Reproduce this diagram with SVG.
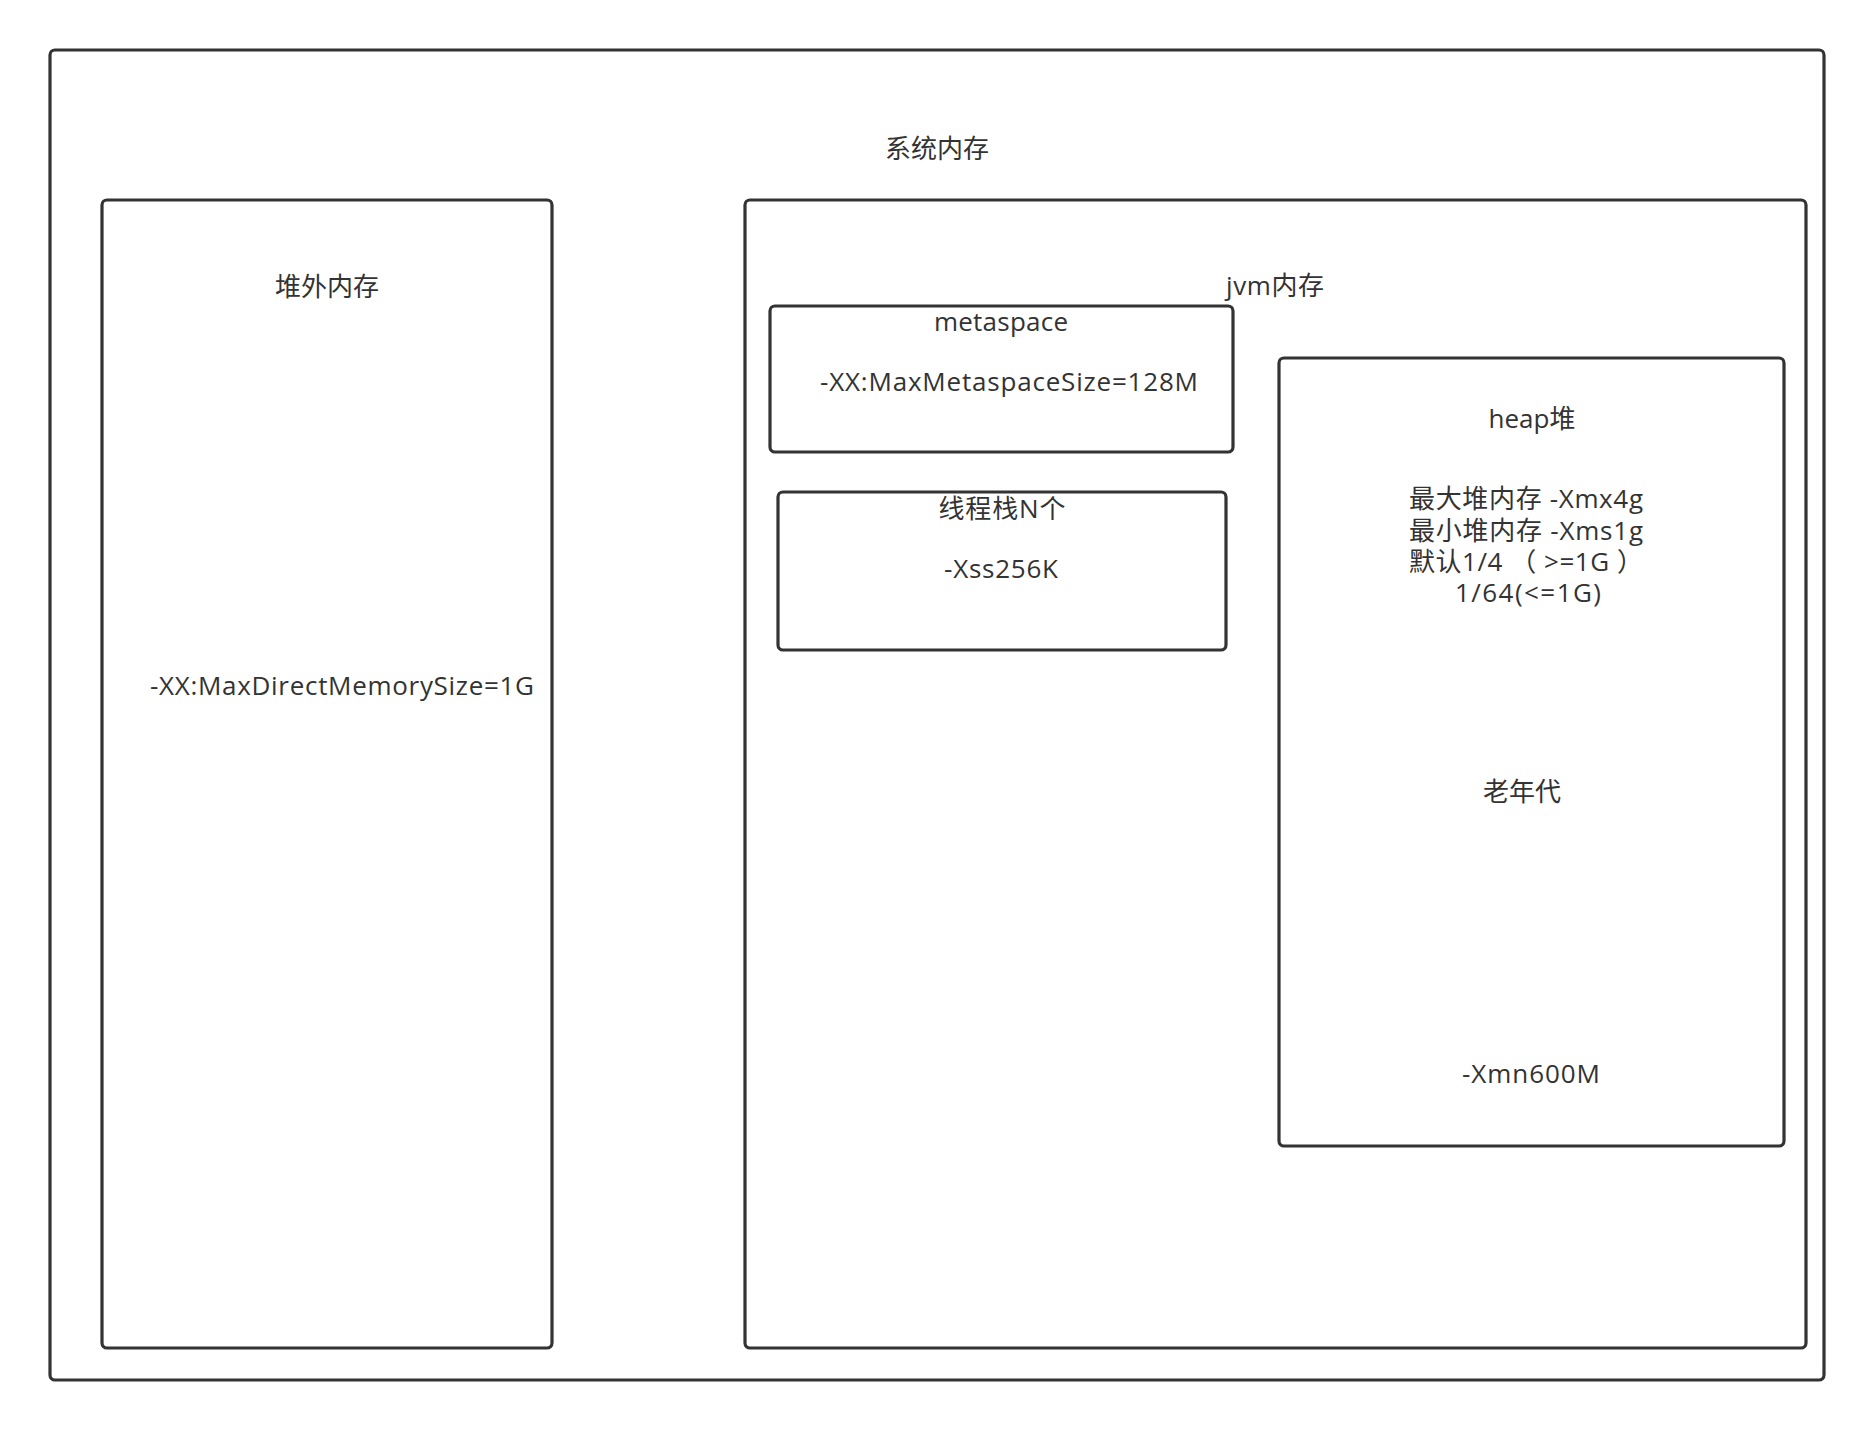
<svg xmlns="http://www.w3.org/2000/svg" width="1872" height="1430" viewBox="0 0 1872 1430">
<style>
.box{fill:#ffffff;stroke:#333333;stroke-width:3.2;}
.t{font-family:'Open Sans','Noto Sans CJK SC',sans-serif;font-size:26px;fill:#333333;}
.c{text-anchor:middle;}
</style>
<rect width="1872" height="1430" fill="#ffffff"/>
<g id="system">
<rect class="box" x="50" y="50" width="1774" height="1330" rx="5"/>
<text class="t c" x="937" y="158" textLength="104">系统内存</text>
</g>
<g id="offheap">
<rect class="box" x="102" y="200" width="450" height="1148" rx="5"/>
<text class="t c" x="327" y="296" textLength="104">堆外内存</text>
<text class="t" x="150" y="695" textLength="384">-XX:MaxDirectMemorySize=1G</text>
</g>
<g id="jvm">
<rect class="box" x="745" y="200" width="1061" height="1148" rx="5"/>
<text class="t c" x="1275" y="295" textLength="98">jvm内存</text>
</g>
<g id="metaspace">
<rect class="box" x="770" y="306" width="463" height="146" rx="5"/>
<text class="t c" x="1001" y="331" textLength="134">metaspace</text>
<text class="t" x="820" y="391" textLength="378">-XX:MaxMetaspaceSize=128M</text>
</g>
<g id="thread">
<rect class="box" x="778" y="492" width="448" height="158" rx="5"/>
<text class="t c" x="1002" y="518" textLength="127">线程栈N个</text>
<text class="t c" x="1001" y="578" textLength="114">-Xss256K</text>
</g>
<g id="heap">
<rect class="box" x="1279" y="358" width="505" height="788" rx="5"/>
<text class="t c" x="1532" y="428" textLength="87">heap堆</text>
<text class="t" x="1409" y="508" textLength="234">最大堆内存 -Xmx4g</text>
<text class="t" x="1409" y="540" textLength="234">最小堆内存 -Xms1g</text>
<text class="t" x="1409" y="571" textLength="234">默认1/4 （ &gt;=1G ）</text>
<text class="t" x="1455" y="602" textLength="146">1/64(&lt;=1G)</text>
<text class="t c" x="1522" y="801" textLength="78">老年代</text>
<text class="t c" x="1531" y="1083" textLength="138">-Xmn600M</text>
</g>
<g id="connectors"></g>
</svg>
